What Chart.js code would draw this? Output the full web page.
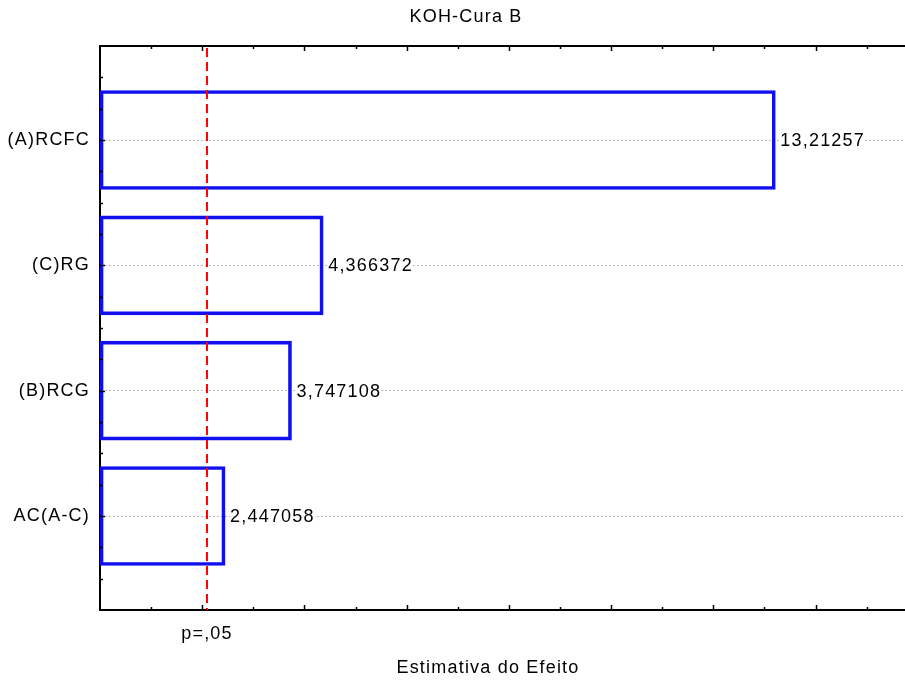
<!DOCTYPE html>
<html>
<head>
<meta charset="utf-8">
<script src="https://cdn.jsdelivr.net/npm/chart.js@4"></script>
<style>
  html, body { margin: 0; padding: 0; background: #fff; }
  #wrap { width: 905px; height: 684px; }
</style>
</head>
<body>
<div id="wrap"><canvas id="pareto" width="905" height="684"></canvas></div>
<script>
// Pareto dos efeitos padronizados - KOH-Cura B
const effects = ['(A)RCFC', '(C)RG', '(B)RCG', 'AC(A-C)'];
const estimates = [13.21257, 4.366372, 3.747108, 2.447058];
const pLimit = 2.093;          // t critico p/ p=,05
const pLabel = 'p=,05';
const chartTitle = 'KOH-Cura B';
const xTitle = 'Estimativa do Efeito';
const xMajor = [2, 4, 6, 8, 10, 12, 14];
const xMinor = [1, 3, 5, 7, 9, 11, 13, 15];

const FAMILY = '"Liberation Sans", Arial, Helvetica, sans-serif';
const FSIZE = 18;
const LS = '1.2px';
const fmt = v => String(v).replace('.', ',');

// letter spacing is lost whenever the canvas is resized, so reapply it
const spacing = {
  id: 'spacing',
  beforeUpdate(c) { c.ctx.letterSpacing = LS; },
  beforeDraw(c) { c.ctx.letterSpacing = LS; }
};

// frame, inner tick marks, p line, value labels and titles
const extras = {
  id: 'extras',
  afterDatasetsDraw(c) {
    const { ctx, chartArea: a, scales: { x, y } } = c;
    ctx.save();

    // top frame line
    ctx.strokeStyle = '#000';
    ctx.lineWidth = 2;
    ctx.beginPath();
    ctx.moveTo(a.left - 1, a.top);
    ctx.lineTo(a.right, a.top);
    ctx.stroke();

    // tick marks pointing into the plot
    ctx.lineWidth = 1.5;
    const xt = (v, len) => {
      const px = Math.round(x.getPixelForValue(v)) + 0.5;
      ctx.beginPath();
      ctx.moveTo(px, a.bottom); ctx.lineTo(px, a.bottom - len);
      ctx.moveTo(px, a.top); ctx.lineTo(px, a.top + len);
      ctx.stroke();
    };
    xMajor.forEach(v => xt(v, 5));
    xMinor.forEach(v => xt(v, 3));
    for (let v = y.min + 0.25; v < y.max; v += 0.25) {
      const py = Math.round(y.getPixelForValue(v)) + 0.5;
      const len = Number.isInteger(v) ? 5 : 3;
      ctx.beginPath();
      ctx.moveTo(a.left, py); ctx.lineTo(a.left + len, py);
      ctx.stroke();
    }

    // significance line
    const px = x.getPixelForValue(pLimit);
    ctx.strokeStyle = '#ff0000';
    ctx.lineWidth = 2;
    ctx.setLineDash([9, 5]);
    ctx.beginPath();
    ctx.moveTo(px, a.top + 2);
    ctx.lineTo(px, a.bottom);
    ctx.stroke();
    ctx.setLineDash([]);

    // value labels at the end of each bar
    ctx.font = FSIZE + 'px ' + FAMILY;
    ctx.letterSpacing = LS;
    ctx.textBaseline = 'middle';
    ctx.textAlign = 'left';
    c.getDatasetMeta(0).data.forEach((bar, i) => {
      const txt = fmt(estimates[i]);
      const w = ctx.measureText(txt).width;
      const tx = bar.x + 5;
      ctx.fillStyle = '#fff';
      ctx.fillRect(tx, bar.y - 8, w, 16);
      ctx.fillStyle = '#000';
      ctx.fillText(txt, tx, bar.y + 1);
    });

    // titles
    ctx.textAlign = 'center';
    ctx.fillText(chartTitle, 466, 17);
    ctx.fillText(xTitle, 488, 668);
    ctx.restore();
  }
};

new Chart(document.getElementById('pareto'), {
  type: 'bar',
  data: {
    datasets: [{
      data: estimates.map((v, i) => ({ x: v, y: i + 1 })),
      backgroundColor: 'rgba(0,0,0,0)',
      borderColor: '#1010ee',
      borderWidth: 3,
      borderSkipped: false,
      barThickness: 99
    }]
  },
  options: {
    indexAxis: 'y',
    responsive: false,
    animation: false,
    events: [],
    layout: { padding: { top: 46, right: 0, left: 0, bottom: 0 } },
    plugins: { legend: { display: false }, tooltip: { enabled: false } },
    scales: {
      x: {
        type: 'linear',
        min: 0,
        max: 15.75,
        afterFit: s => { s.height = 74; },
        afterBuildTicks: s => { s.ticks = [{ value: pLimit }]; },
        grid: { display: false, drawTicks: false },
        border: { display: true, color: '#000', width: 2 },
        ticks: {
          callback: () => pLabel,
          color: '#000',
          padding: 13,
          maxRotation: 0,
          font: { family: FAMILY, size: FSIZE }
        }
      },
      y: {
        type: 'linear',
        min: 0.25,
        max: 4.75,
        reverse: true,
        offset: false,
        afterFit: s => { s.width = 100; },
        afterBuildTicks: s => { s.ticks = effects.map((_, i) => ({ value: i + 1 })); },
        grid: { color: '#bdbdbd', lineWidth: 1, drawTicks: false, offset: false },
        border: { display: true, color: '#000', width: 2, dash: [2, 2] },
        ticks: {
          callback: v => effects[v - 1],
          color: '#000',
          padding: 10,
          font: { family: FAMILY, size: FSIZE }
        }
      }
    }
  },
  plugins: [spacing, extras]
});
</script>
</body>
</html>
